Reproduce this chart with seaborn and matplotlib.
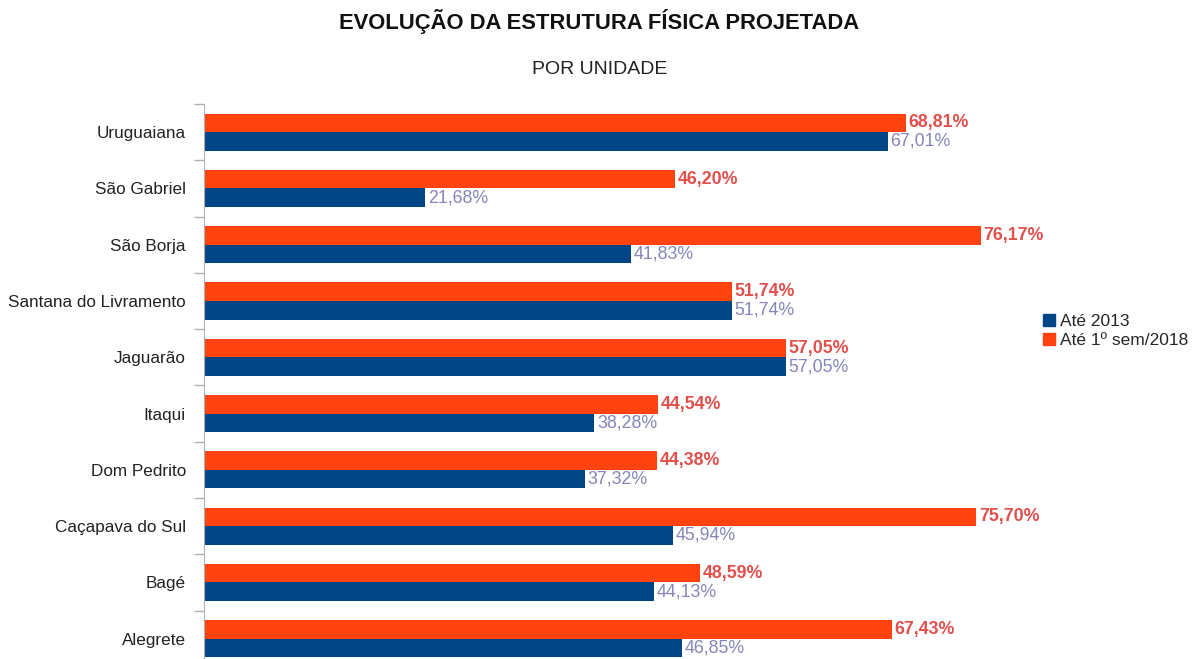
import pandas as pd
import matplotlib.pyplot as plt
import seaborn as sns
from matplotlib.lines import Line2D

# Unidades (de cima para baixo) e percentuais de evolução
unidades = ['Uruguaiana', 'São Gabriel', 'São Borja', 'Santana do Livramento', 'Jaguarão',
            'Itaqui', 'Dom Pedrito', 'Caçapava do Sul', 'Bagé', 'Alegrete']
ate_2013 = [67.01, 21.68, 41.83, 51.74, 57.05, 38.28, 37.32, 45.94, 44.13, 46.85]
ate_2018 = [68.81, 46.20, 76.17, 51.74, 57.05, 44.54, 44.38, 75.70, 48.59, 67.43]
series = ['Até 1º sem/2018', 'Até 2013']

df = pd.DataFrame({
    'Unidade': unidades * 2,
    'Valor': ate_2018 + ate_2013,
    'Série': [series[0]] * len(unidades) + [series[1]] * len(unidades),
})

sns.set_style('white')
plt.rcParams['font.family'] = ['Liberation Sans', 'DejaVu Sans']

azul = '#004586'
laranja = '#ff420e'
cor_txt = {series[0]: '#e2504c', series[1]: '#8585b9'}

fig = plt.figure(figsize=(11.99, 6.59), dpi=100)
ax = fig.add_axes([204 / 1199, 0, 816 / 1199, 555 / 659])

sns.barplot(data=df, x='Valor', y='Unidade', hue='Série', order=unidades,
            hue_order=series, palette=[laranja, azul], width=0.66, gap=0,
            saturation=1, linewidth=0, ax=ax, legend=False)

# rótulos de valor
for cont, s in zip(ax.containers, series):
    labels = [f'{v:.2f}%'.replace('.', ',') for v in cont.datavalues]
    ax.bar_label(cont, labels=labels, padding=2, color=cor_txt[s], fontsize=12.8,
                 fontweight='bold' if s == series[0] else 'normal')

ax.set_xlim(0, 80)
ax.set_ylim(9.36, -0.5)
ax.set_xlabel('')
ax.set_ylabel('')
ax.set_xticks([])
ax.set_yticks(range(len(unidades)))
ax.set_yticklabels(unidades, fontsize=12.3, color='#222222')
ax.set_yticks([i - 0.5 for i in range(len(unidades))], minor=True)
ax.tick_params(axis='y', which='major', length=0, pad=13)
ax.tick_params(axis='y', which='minor', length=7, color='#b0b0b0', width=1, left=True)
for side in ['top', 'right', 'bottom']:
    ax.spines[side].set_visible(False)
ax.spines['left'].set_color('#b0b0b0')

fig.text(0.5, 1 - 22 / 659, 'EVOLUÇÃO DA ESTRUTURA FÍSICA PROJETADA', ha='center', va='center',
         fontsize=15.8, fontweight='bold', color='#111111')
fig.text(0.5, 1 - 70 / 659, 'POR UNIDADE', ha='center', va='center', fontsize=14, color='#222222')

handles = [Line2D([], [], marker='s', linestyle='', color=azul, markersize=8.5),
           Line2D([], [], marker='s', linestyle='', color=laranja, markersize=8.5)]
fig.legend(handles, ['Até 2013', 'Até 1º sem/2018'], loc='center left',
           bbox_to_anchor=(1044 / 1199, 1 - 331 / 659), frameon=False, fontsize=12.5,
           handlelength=0.6, handletextpad=0.35, labelspacing=0.2, borderaxespad=0,
           borderpad=0)

fig.savefig('out.png', dpi=100)
